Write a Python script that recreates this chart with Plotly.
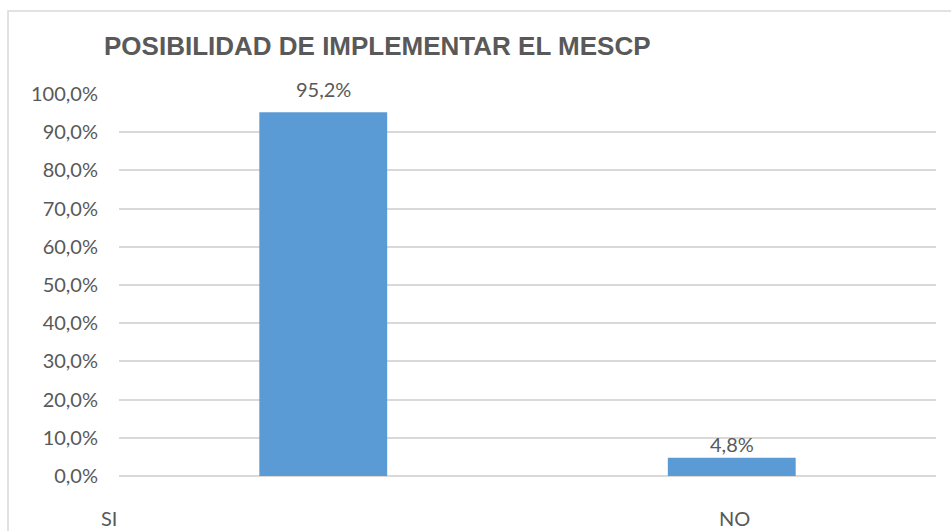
import plotly.graph_objects as go

categories = ["SI", "NO"]
values = [0.952, 0.048]
tick_vals = [i / 10 for i in range(11)]
tick_text = ["0,0%", "10,0%", "20,0%", "30,0%", "40,0%", "50,0%", "60,0%", "70,0%", "80,0%", "90,0%", "100,0%"]
title_text = "POSIBILIDAD DE IMPLEMENTAR EL MESCP"

W, H = 951, 531
L, R, T, B = 119, 15, 94, 55
pw = W - L - R
ph = H - T - B

TXT = "#595959"
FONT = "Lato, 'Liberation Sans', Arial, sans-serif"

fig = go.Figure()
fig.add_trace(go.Bar(
    x=categories, y=values, marker=dict(color="#5B9BD5", line=dict(width=0)),
    width=0.313, hoverinfo="skip"))

annotations = []
label_shift = [23, 14]
for c, v, s in zip(categories, values, label_shift):
    annotations.append(dict(
        x=c, y=v, xref="x", yref="y", text=f"{v*100:.1f}%".replace(".", ","),
        showarrow=False, yanchor="middle", yshift=s,
        font=dict(family=FONT, size=20, color=TXT)))

# category labels (as placed in the original)
cat_x_px = [109, 734]
for c, xp in zip(categories, cat_x_px):
    annotations.append(dict(
        x=(xp - L) / pw, y=-(518 - (T + ph)) / ph, xref="paper", yref="paper",
        text=c, showarrow=False, xanchor="center", yanchor="middle",
        font=dict(family=FONT, size=20, color=TXT)))

fig.update_layout(
    width=W, height=H,
    margin=dict(l=L, r=R, t=T, b=B, autoexpand=False),
    paper_bgcolor="white", plot_bgcolor="white",
    showlegend=False,
    title=dict(text=f"<b>{title_text}</b>", x=104 / W, xanchor="left", xref="container",
               y=1 - 46 / H, yanchor="middle", yref="container",
               font=dict(family="'Liberation Sans', Arial, sans-serif", size=26, color=TXT)),
    xaxis=dict(showticklabels=False, showgrid=False, zeroline=False, showline=False,
               range=[-0.5, 1.5], fixedrange=True),
    yaxis=dict(range=[0, 1.0], tickvals=tick_vals, ticktext=tick_text,
               showgrid=True, gridcolor="#d9d9d9", gridwidth=1.5,
               zeroline=True, zerolinecolor="#d9d9d9", zerolinewidth=1.5,
               showline=False, ticks="", ticklabelstandoff=20,
               tickfont=dict(family=FONT, size=20, color=TXT)),
    annotations=annotations,
    shapes=[dict(type="rect", xref="paper", yref="paper",
                 x0=(8 - L) / pw, x1=(W + 5 - L) / pw,
                 y0=-(H + 5 - (T + ph)) / ph, y1=1 + (T - 11) / ph,
                 line=dict(color="#d9d9d9", width=1.5), fillcolor="rgba(0,0,0,0)", layer="below")],
)

fig.write_html("out.html", config={"displayModeBar": False},
               post_script="document.body.style.margin='0';")
